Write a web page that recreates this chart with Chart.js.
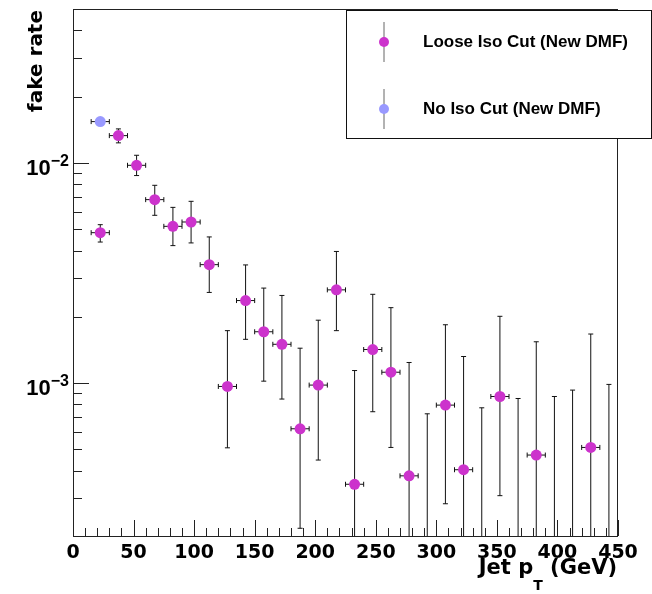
<!DOCTYPE html>
<html>
<head>
<meta charset="utf-8">
<script src="https://cdn.jsdelivr.net/npm/chart.js@4.4.1/dist/chart.umd.min.js"></script>
<style>
  html, body { margin: 0; padding: 0; background: #fff; }
  canvas { display: block; }
</style>
</head>
<body>
<canvas id="fake-rate" width="652" height="594"></canvas>
<script>
// jet pT bin centres (GeV), bins are 15 GeV wide
const ptBins = [22.5, 37.5, 52.5, 67.5, 82.5, 97.5, 112.5, 127.5, 142.5, 157.5,
  172.5, 187.5, 202.5, 217.5, 232.5, 247.5, 262.5, 277.5, 292.5, 307.5,
  322.5, 337.5, 352.5, 367.5, 382.5, 397.5, 412.5, 427.5, 442.5];
const binHalf = 7.5;

// Loose Iso Cut: rate, upper and lower edge of the error bar (0 = off scale)
const looseRate = [4.82e-3, 1.33e-2, 9.75e-3, 6.81e-3, 5.15e-3, 5.39e-3, 3.45e-3, 9.65e-4, 2.37e-3, 1.71e-3,
  1.50e-3, 6.20e-4, 9.79e-4, 2.65e-3, 3.47e-4, 1.42e-3, 1.12e-3, 3.79e-4, 0, 7.94e-4,
  4.04e-4, 0, 8.69e-4, 0, 4.71e-4, 0, 0, 5.10e-4, 0];
const looseHigh = [5.24e-3, 1.427e-2, 1.083e-2, 7.91e-3, 6.28e-3, 6.69e-3, 4.61e-3, 1.73e-3, 3.44e-3, 2.70e-3,
  2.50e-3, 1.44e-3, 1.93e-3, 3.96e-3, 1.14e-3, 2.53e-3, 2.20e-3, 1.24e-3, 7.25e-4, 1.84e-3,
  1.32e-3, 7.72e-4, 2.01e-3, 8.51e-4, 1.54e-3, 8.69e-4, 9.29e-4, 1.67e-3, 9.86e-4];
const looseLow = [4.37e-3, 1.233e-2, 8.76e-3, 5.78e-3, 4.21e-3, 4.33e-3, 2.58e-3, 5.08e-4, 1.58e-3, 1.02e-3,
  8.46e-4, 2.19e-4, 4.47e-4, 1.73e-3, 0, 7.41e-4, 5.10e-4, 0, 0, 2.83e-4,
  0, 0, 3.08e-4, 0, 0, 0, 0, 0, 0];

// No Iso Cut
const noIsoBins = [22.5];
const noIsoRate = [1.54e-2];
const noIsoHigh = [1.56e-2];
const noIsoLow = [1.52e-2];

const xTicks = [0, 50, 100, 150, 200, 250, 300, 350, 400, 450];
const yMajor = [1e-2, 1e-3];
const yMajorExp = ["\u22122", "\u22123"];
const yMinor = [3e-4, 4e-4, 5e-4, 6e-4, 7e-4, 8e-4, 9e-4, 2e-3, 3e-3, 4e-3, 5e-3, 6e-3, 7e-3, 8e-3, 9e-3, 2e-2, 3e-2, 4e-2, 5e-2];

const MAGENTA = "#cc33cc";
const LILAC = "#9999ff";
const FONT = '"Liberation Sans", Arial, Helvetica, sans-serif';
const WIDE = '"DejaVu Sans", Verdana, sans-serif';

function toPoints(xs, ys) {
  return xs.map((x, i) => ({ x: x, y: ys[i] > 0 ? ys[i] : null }));
}

// error bars, drawn under the markers
const errorBars = {
  id: "errorBars",
  beforeDatasetsDraw(chart) {
    const { ctx, chartArea, scales } = chart;
    const sx = scales.x, sy = scales.y;
    const sets = [
      [ptBins, looseRate, looseHigh, looseLow],
      [noIsoBins, noIsoRate, noIsoHigh, noIsoLow],
    ];
    ctx.save();
    ctx.beginPath();
    ctx.rect(chartArea.left, chartArea.top, chartArea.width, chartArea.height);
    ctx.clip();
    ctx.strokeStyle = "#111";
    ctx.lineWidth = 1;
    sets.forEach(([xs, rate, hi, lo]) => {
      xs.forEach((x, i) => {
        const px = sx.getPixelForValue(x);
        const top = sy.getPixelForValue(hi[i]);
        const bot = lo[i] > sy.min ? sy.getPixelForValue(lo[i]) : chartArea.bottom + 2;
        ctx.beginPath();
        ctx.moveTo(px, top); ctx.lineTo(px, bot);
        ctx.moveTo(px - 2.5, top); ctx.lineTo(px + 2.5, top);
        if (lo[i] > sy.min) { ctx.moveTo(px - 2.5, bot); ctx.lineTo(px + 2.5, bot); }
        ctx.stroke();
        if (rate[i] > 0) {
          const py = sy.getPixelForValue(rate[i]);
          const l = sx.getPixelForValue(x - binHalf), r = sx.getPixelForValue(x + binHalf);
          ctx.beginPath();
          ctx.moveTo(l, py); ctx.lineTo(r, py);
          ctx.moveTo(l, py - 2.5); ctx.lineTo(l, py + 2.5);
          ctx.moveTo(r, py - 2.5); ctx.lineTo(r, py + 2.5);
          ctx.stroke();
        }
      });
    });
    ctx.restore();
  },
};

// ROOT style frame, ticks, labels and legend
const rootFrame = {
  id: "rootFrame",
  afterDraw(chart) {
    const { ctx, chartArea: a, scales } = chart;
    const sx = scales.x, sy = scales.y;
    ctx.save();
    ctx.strokeStyle = "#222";
    ctx.lineWidth = 1;
    ctx.strokeRect(Math.round(a.left) + 0.5, Math.round(a.top) + 0.5,
      Math.round(a.width) - 1, Math.round(a.height));

    // x ticks: majors every 50, minors every 10
    ctx.beginPath();
    for (let v = 0; v <= 450; v += 10) {
      const px = Math.round(sx.getPixelForValue(v)) + 0.5;
      const len = v % 50 === 0 ? 16 : 8;
      ctx.moveTo(px, a.bottom); ctx.lineTo(px, a.bottom - len);
    }
    yMajor.forEach((v) => {
      const py = Math.round(sy.getPixelForValue(v)) + 0.5;
      ctx.moveTo(a.left, py); ctx.lineTo(a.left + 16, py);
    });
    yMinor.forEach((v) => {
      const py = Math.round(sy.getPixelForValue(v)) + 0.5;
      ctx.moveTo(a.left, py); ctx.lineTo(a.left + 9, py);
    });
    ctx.stroke();

    ctx.fillStyle = "#000";
    ctx.font = "bold 19px " + WIDE;
    ctx.textAlign = "center";
    ctx.textBaseline = "alphabetic";
    xTicks.forEach((v) => ctx.fillText(String(v), sx.getPixelForValue(v), 558));

    yMajor.forEach((v, i) => {
      const py = sy.getPixelForValue(v);
      ctx.font = "bold 16px " + FONT;
      ctx.textAlign = "right";
      const ew = ctx.measureText(yMajorExp[i]).width;
      ctx.fillText(yMajorExp[i], 69, py + 3);
      ctx.font = "bold 22px " + FONT;
      ctx.fillText("10", 69 - ew, py + 12);
    });

    // axis titles
    ctx.font = "bold 21px " + WIDE;
    ctx.textAlign = "right";
    const tail = " (GeV)";
    const tailW = ctx.measureText(tail).width;
    ctx.fillText(tail, 617, 574);
    ctx.font = "bold 14px " + WIDE;
    const tW = ctx.measureText("T").width;
    ctx.fillText("T", 617 - tailW, 590);
    ctx.font = "bold 21px " + WIDE;
    ctx.fillText("Jet p", 617 - tailW - tW, 574);

    ctx.save();
    ctx.translate(42, 10);
    ctx.rotate(-Math.PI / 2);
    ctx.textAlign = "right";
    ctx.font = "bold 20px " + WIDE;
    ctx.fillText("fake rate", 0, 0);
    ctx.restore();

    // legend box
    ctx.fillStyle = "#fff";
    ctx.fillRect(346.5, 10.5, 305, 128);
    ctx.strokeStyle = "#111";
    ctx.strokeRect(346.5, 10.5, 305, 128);
    const entries = [
      { label: "Loose Iso Cut (New DMF)", color: MAGENTA, y: 42 },
      { label: "No Iso Cut (New DMF)", color: LILAC, y: 109 },
    ];
    entries.forEach((e) => {
      ctx.strokeStyle = "#666";
      ctx.beginPath();
      ctx.moveTo(384, e.y - 20); ctx.lineTo(384, e.y + 20);
      ctx.stroke();
      ctx.fillStyle = e.color;
      ctx.beginPath();
      ctx.arc(384, e.y, 5, 0, Math.PI * 2);
      ctx.fill();
      ctx.fillStyle = "#000";
      ctx.font = "bold 17px " + FONT;
      ctx.textAlign = "left";
      ctx.textBaseline = "middle";
      ctx.fillText(e.label, 423, e.y);
    });
    ctx.restore();
  },
};

new Chart(document.getElementById("fake-rate"), {
  type: "scatter",
  data: {
    datasets: [
      {
        label: "Loose Iso Cut (New DMF)",
        data: toPoints(ptBins, looseRate),
        backgroundColor: MAGENTA,
        borderWidth: 0,
        pointRadius: 5.5,
      },
      {
        label: "No Iso Cut (New DMF)",
        data: toPoints(noIsoBins, noIsoRate),
        backgroundColor: LILAC,
        borderWidth: 0,
        pointRadius: 5.5,
      },
    ],
  },
  options: {
    responsive: false,
    animation: false,
    layout: { padding: { left: 73, top: 9, right: 34, bottom: 58 } },
    plugins: { legend: { display: false }, tooltip: { enabled: false } },
    scales: {
      x: { type: "linear", min: 0, max: 450, display: false },
      y: { type: "logarithmic", min: 2.02e-4, max: 0.05, display: false },
    },
  },
  plugins: [errorBars, rootFrame],
});
</script>
</body>
</html>
